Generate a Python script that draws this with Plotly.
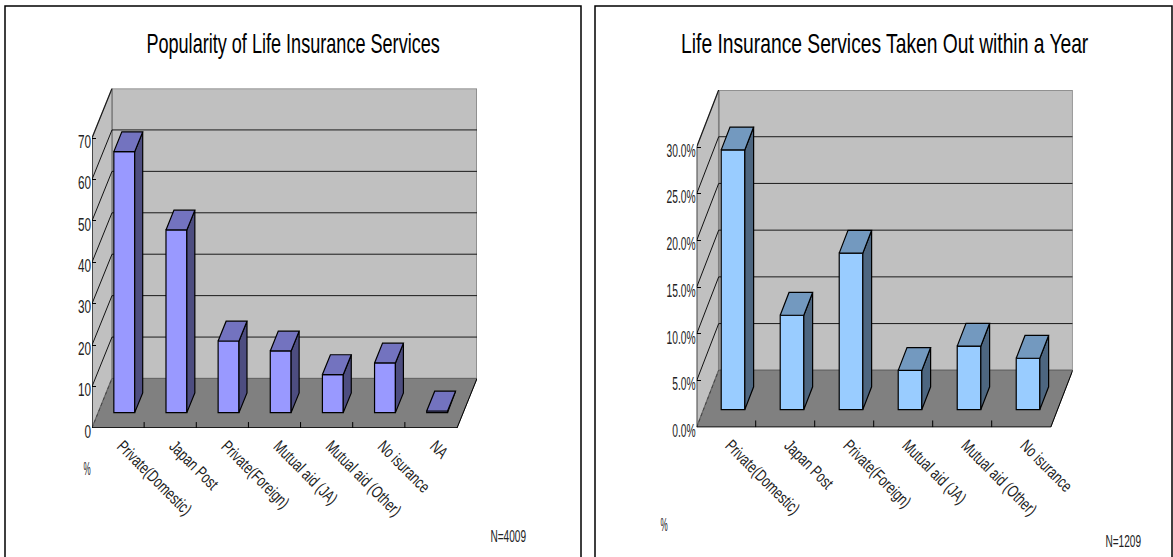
import json
import plotly.graph_objects as go

W, H = 1173, 557

# ---- data ----
left_title = "Popularity of Life Insurance Services"
left_categories = ["Private(Domestic)", "Japan Post", "Private(Foreign)", "Mutual aid (JA)",
                   "Mutual aid (Other)", "No isurance", "NA"]
left_values = [63.0, 44.1, 17.3, 14.9, 9.2, 12.0, 0.4]
left_ticks = [0, 10, 20, 30, 40, 50, 60, 70]
left_ticktext = ["0", "10", "20", "30", "40", "50", "60", "70"]

right_title = "Life Insurance Services Taken Out within a Year"
right_categories = ["Private(Domestic)", "Japan Post", "Private(Foreign)", "Mutual aid (JA)",
                    "Mutual aid (Other)", "No isurance"]
right_values = [27.8, 10.1, 16.75, 4.2, 6.8, 5.5]
right_ticks = [0, 5, 10, 15, 20, 25, 30]
right_ticktext = ["0.0%", "5.0%", "10.0%", "15.0%", "20.0%", "25.0%", "30.0%"]

FONT = "Liberation Sans, Arial, sans-serif"
fig = go.Figure()


def panel(idx, title, cats, vals, ticks, ticktext, box, depth_px, colors, title_x, pct_xy, n_text, n_xy):
    """box: front-plane pixel rect (x0, x1, y_zero, y_top)."""
    x0, x1, yz, yt = box
    dxp, dyp = depth_px
    n, vmax = len(cats), ticks[-1]
    ux = (x1 - x0) / n
    uy = (yz - yt) / vmax
    DX, DY = dxp / ux, dyp / uy
    suffix = "" if idx == 1 else str(idx)
    xa, ya = "x" + suffix, "y" + suffix
    fig.update_layout({
        "xaxis" + suffix: dict(
            domain=[x0 / W, (x1 + dxp) / W], range=[0, n + DX], anchor=ya,
            tickmode="array", tickvals=[i + 0.5 for i in range(n)], ticktext=cats,
            tickangle=45, ticks="", showgrid=False, zeroline=False, showline=False,
            ticklabelstandoff=4, ticklabelshift=4,
            tickfont=dict(family=FONT, size=17, color="#222"), automargin=False),
        "yaxis" + suffix: dict(
            domain=[1 - yz / H, 1 - (yt - dyp) / H], range=[0, vmax + DY], anchor=xa,
            tickmode="array", tickvals=ticks, ticktext=ticktext,
            ticks="inside", ticklen=4, tickcolor="black", tickwidth=1,
            showgrid=False, zeroline=False, showline=False, ticklabelshift=3,
            tickfont=dict(family=FONT, size=19, color="#222"), automargin=False),
    })

    def P(x, y, d):
        return x + d * DX, y + d * DY

    def poly(pts, fill, line_color, lw=1, layer="below"):
        path = "M " + " L ".join(f"{p[0]},{p[1]}" for p in pts) + " Z"
        fig.add_shape(type="path", path=path, xref=xa, yref=ya, fillcolor=fill,
                      line=dict(color=line_color, width=lw), layer=layer)

    def seg(a, b, color, lw=1, dash="solid"):
        fig.add_shape(type="line", x0=a[0], y0=a[1], x1=b[0], y1=b[1], xref=xa, yref=ya,
                      line=dict(color=color, width=lw, dash=dash), layer="below")

    # walls and floor
    poly([P(0, 0, 1), P(n, 0, 1), P(n, vmax, 1), P(0, vmax, 1)], "#C0C0C0", "#808080", 1.5)
    poly([P(0, 0, 0), P(0, 0, 1), P(0, vmax, 1), P(0, vmax, 0)], "#C0C0C0", "#808080", 1.5)
    poly([P(0, 0, 0), P(n, 0, 0), P(n, 0, 1), P(0, 0, 1)], "#808080", "#666666", 1)
    # grid on back and side walls
    for t in ticks[1:-1]:
        seg(P(0, t, 1), P(n, t, 1), "#1a1a1a", 1)
    for t in ticks[1:]:
        seg(P(0, t, 0), P(0, t, 1), "#111111", 1)
    seg(P(0, 0, 0), P(0, 0, 1), "#444444", 1, "dot")
    # axis lines
    seg(P(0, 0, 0), P(0, vmax, 0), "black", 1)
    seg(P(0, 0, 0), P(n, 0, 0), "black", 1.5)
    seg(P(n, 0, 0), P(n, 0, 1), "black", 1)
    for i in range(1, n):
        seg((i, 0), (i, 0.12 * DY), "black", 1)

    # bars
    front, side, top = colors
    d0, d1 = 0.31, 0.71
    w = 0.4
    fig.add_trace(go.Bar(x=[i + 0.5 + d0 * DX for i in range(n)], y=vals, base=d0 * DY, width=w,
                         marker=dict(color=front, line=dict(color="black", width=1.2)),
                         xaxis=xa, yaxis=ya, showlegend=False, hoverinfo="skip"))
    for i, v in enumerate(vals):
        l, r = i + 0.5 - w / 2, i + 0.5 + w / 2
        quads = [([P(r, 0, d0), P(r, 0, d1), P(r, v, d1), P(r, v, d0)], side),
                 ([P(l, v, d0), P(r, v, d0), P(r, v, d1), P(l, v, d1)], top)]
        for pts, c in quads:
            pts = pts + [pts[0]]
            fig.add_trace(go.Scatter(x=[p[0] for p in pts], y=[p[1] for p in pts], mode="lines",
                                     fill="toself", fillcolor=c, line=dict(color="black", width=1.2),
                                     xaxis=xa, yaxis=ya, showlegend=False, hoverinfo="skip"))

    def note(text, px, py, size, color="#222"):
        fig.add_annotation(text=text, x=px / W, y=1 - py / H, xref="paper", yref="paper",
                           xanchor="center", yanchor="middle", showarrow=False,
                           font=dict(family=FONT, size=size, color=color))
    note(title, title_x, 44, 27, "black")
    note("%", pct_xy[0], pct_xy[1], 18)
    note(n_text, n_xy[0], n_xy[1], 16)


panel(1, left_title, left_categories, left_values, left_ticks, left_ticktext,
      (92, 457, 428, 138), (20, 49.5), ("#9999FF", "#4D4D80", "#7373BF"),
      293, (87, 469), "N=4009", (508, 536))
panel(2, right_title, right_categories, right_values, right_ticks, right_ticktext,
      (696.7, 1050.7, 427.3, 147), (22, 57), ("#99CCFF", "#4D6680", "#7399BF"),
      884, (664, 525), "N=1209", (1123, 541))

# panel frames
for fx0, fx1 in [(5, 581), (595, 1172)]:
    fig.add_shape(type="rect", x0=fx0 / W, x1=fx1 / W, y0=-0.1, y1=1 - 6 / H, xref="paper", yref="paper",
                  line=dict(color="black", width=1.5), fillcolor="white", layer="below")

fig.update_layout(width=W, height=H, margin=dict(l=0, r=0, t=0, b=0), paper_bgcolor="white",
                  plot_bgcolor="rgba(0,0,0,0)", barmode="overlay", showlegend=False)

# The reference's lettering is a narrow face; condense the installed one while keeping real text.
squeeze = {left_title: 0.67, right_title: 0.713, "%": 0.45, "N=4009": 0.63, "N=1209": 0.63}
squeeze.update({t: 0.62 for t in left_ticktext})
squeeze.update({t: 0.54 for t in right_ticktext})
post = """
document.body.style.margin='0';document.body.style.overflow='hidden';
var SQ=%s;
function squeezeText(){
  document.querySelectorAll('.xtick text,.ytick text,.x2tick text,.y2tick text').forEach(function(t){
    if(t.getAttribute('textLength'))return;
    var r=SQ[t.textContent]||0.72;
    var w=t.getComputedTextLength();
    if(w>0){t.setAttribute('lengthAdjust','spacingAndGlyphs');t.setAttribute('textLength',w*r);}
  });
  document.querySelectorAll('.annotation-text').forEach(function(t){
    if(t.getAttribute('data-sq'))return;
    var r=SQ[t.textContent]||0.72, x=parseFloat(t.getAttribute('x'))||0;
    t.setAttribute('data-sq','1');
    t.setAttribute('transform','translate('+(x*(1-r))+' 0) scale('+r+' 1)');
  });
}
squeezeText();setTimeout(squeezeText,60);
""" % json.dumps(squeeze)
fig.write_html("out.html", config=dict(displayModeBar=False), post_script=post)
